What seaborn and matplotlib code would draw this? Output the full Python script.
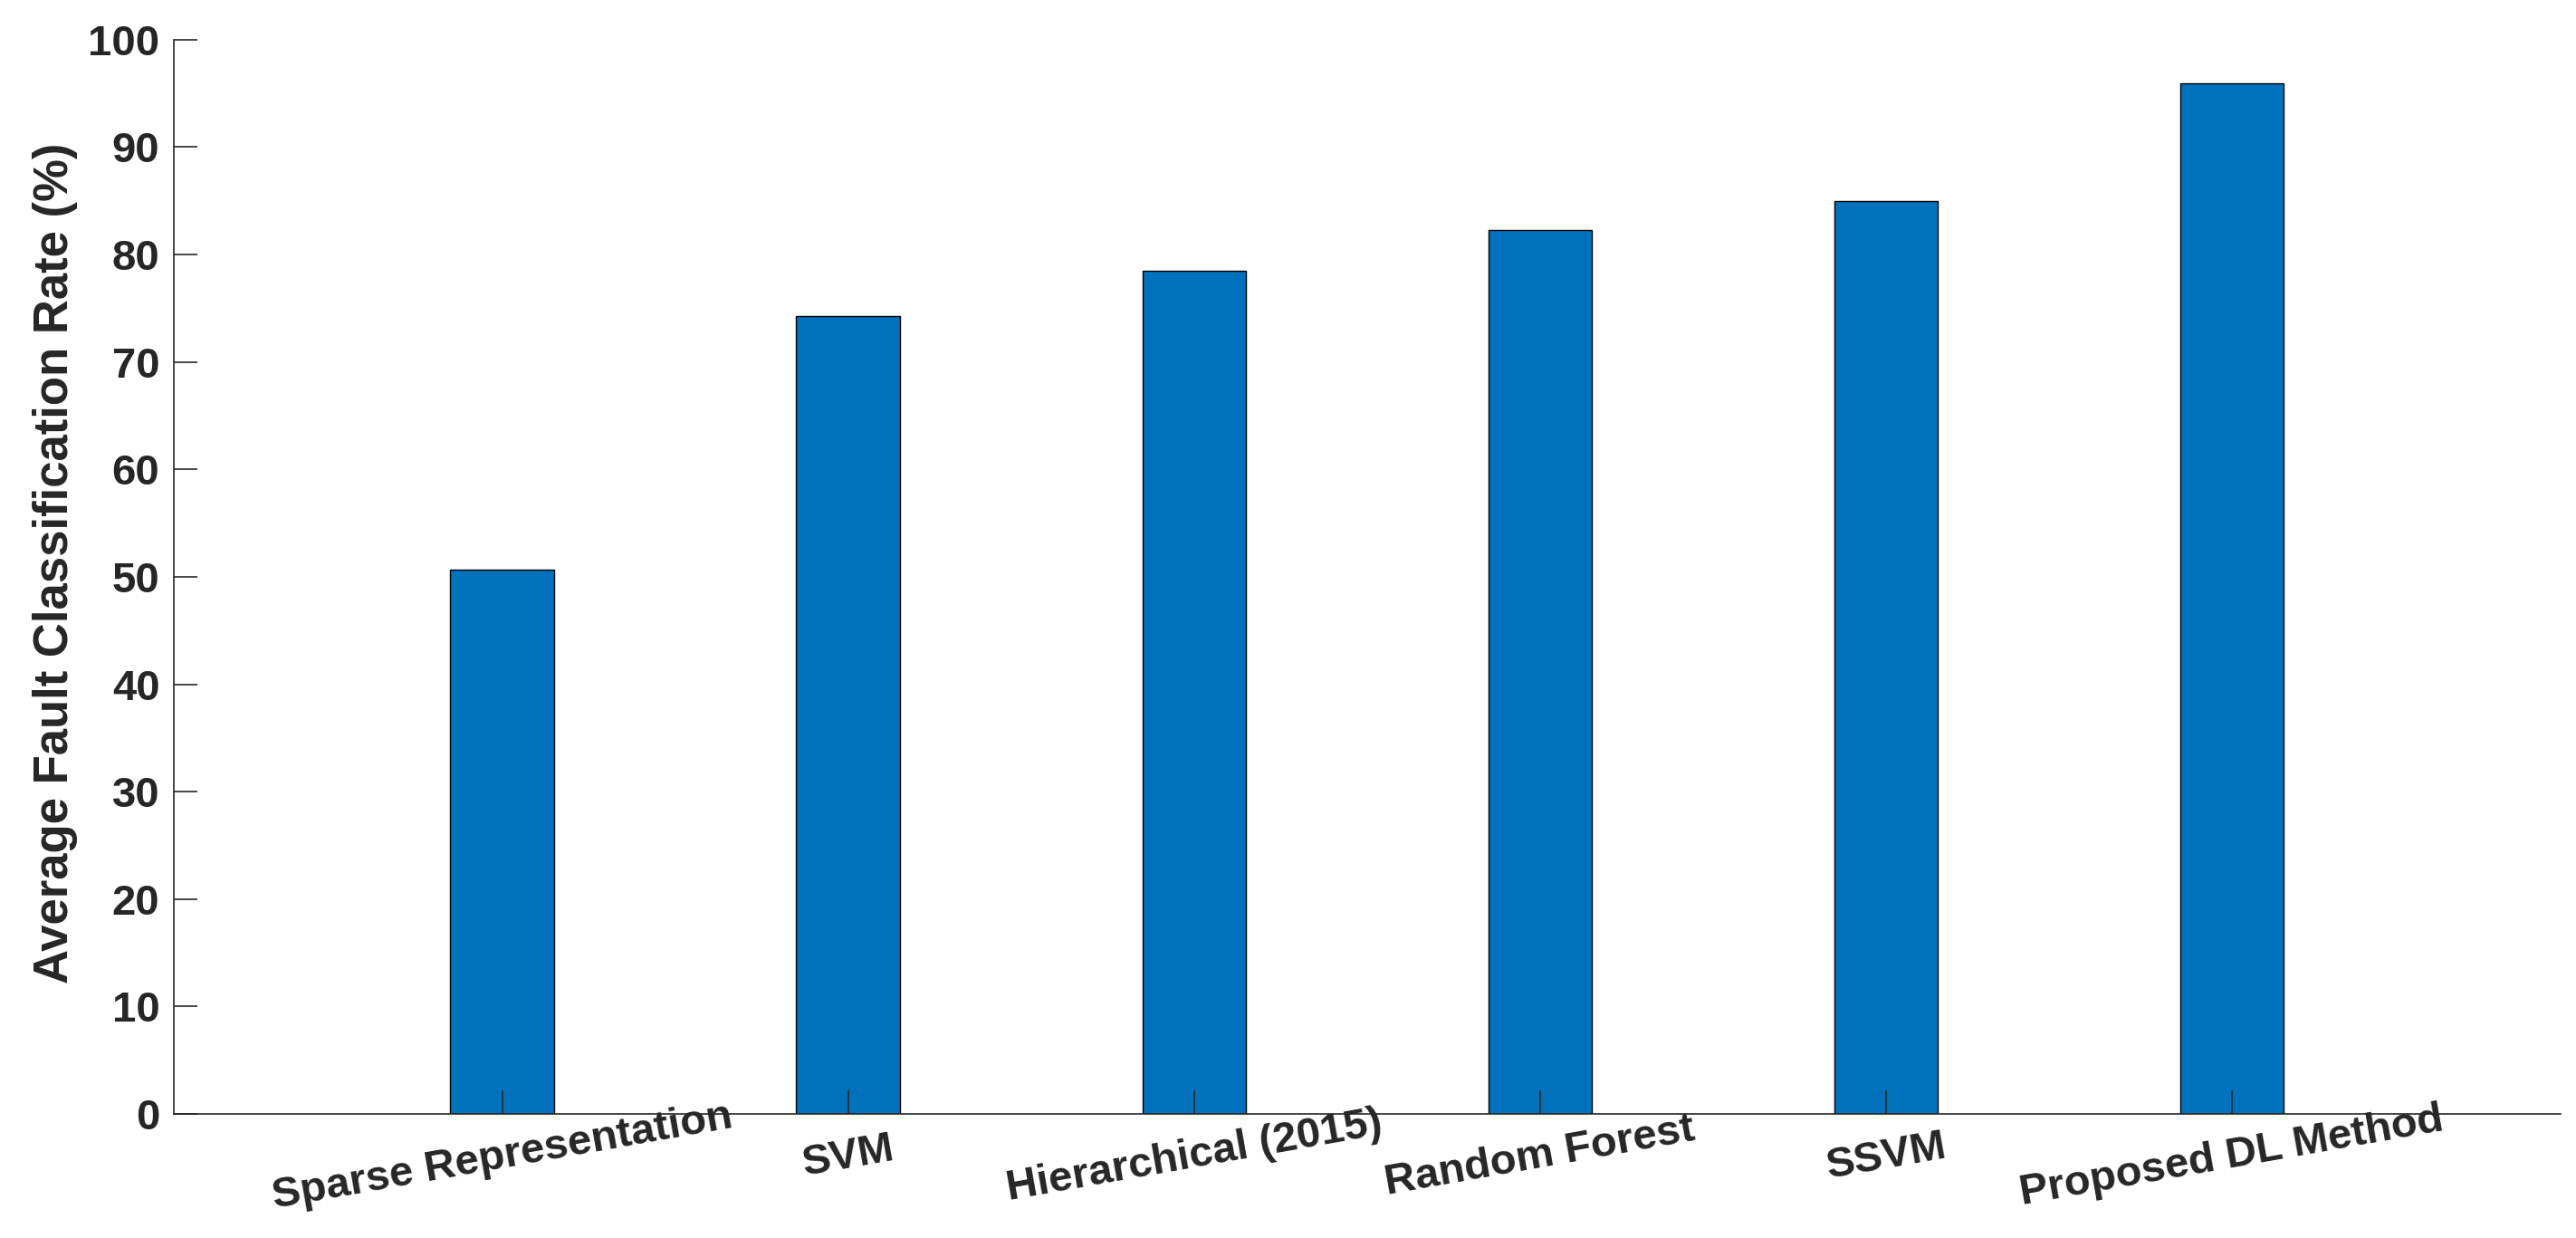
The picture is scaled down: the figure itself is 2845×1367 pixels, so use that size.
import matplotlib
matplotlib.use("Agg")
import matplotlib.pyplot as plt
import seaborn as sns
import pandas as pd

methods = ["Sparse Representation", "SVM", "Hierarchical (2015)",
           "Random Forest", "SSVM", "Proposed DL Method"]
rates = [50.7, 74.3, 78.5, 82.3, 85.0, 95.9]
y_ticks = list(range(0, 101, 10))

df = pd.DataFrame({"method": methods, "rate": rates})

sns.set_theme(style="ticks")
plt.rcParams["font.family"] = ["Liberation Sans", "DejaVu Sans"]
plt.rcParams["font.weight"] = "bold"

ink = "#262626"

fig = plt.figure(figsize=(14.225, 6.835), dpi=200)
ax = fig.add_axes([0.0674, 0.1002, 0.9266, 0.8678])

sns.barplot(data=df, x="method", y="rate", color="#0072BD", saturation=1,
            width=0.3, edgecolor="black", linewidth=0.5, ax=ax)

# matlab draws the tick marks on top of the bars
ax.set_axisbelow(False)

ax.set_xlim(-0.95, 5.95)
ax.set_ylim(0, 100)
ax.set_yticks(y_ticks)
ax.set_yticklabels([str(v) for v in y_ticks])

sns.despine(ax=ax)
for s in ["left", "bottom"]:
    ax.spines[s].set_color(ink)
    ax.spines[s].set_linewidth(0.6)

ax.tick_params(direction="in", length=9.4, width=0.6, color=ink,
               labelsize=17, labelcolor=ink)
ax.tick_params(axis="y", pad=5.5)
ax.tick_params(axis="x", pad=17)
for lab in ax.get_xticklabels():
    lab.set_rotation(10)
    lab.set_rotation_mode("anchor")
    lab.set_ha("center")
    lab.set_va("center")
    lab.set_fontweight("bold")
for lab in ax.get_yticklabels():
    lab.set_fontweight("bold")

ax.set_xlabel("")
ax.set_ylabel("Average Fault Classification Rate (%)", fontsize=19,
              fontweight="bold", color=ink)
ax.yaxis.set_label_coords(-0.040, 0.513)

fig.savefig("out.png", dpi=200)
